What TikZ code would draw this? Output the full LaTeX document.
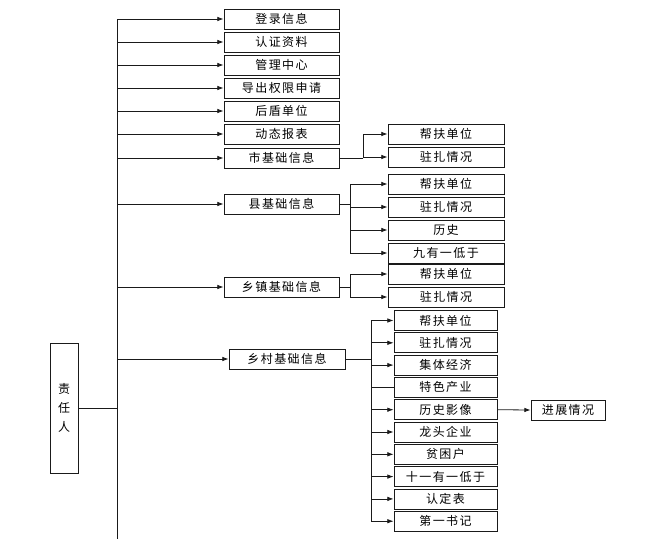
\documentclass[tikz,border=0pt]{standalone}
\usepackage{fontspec}
\usepackage{tikz}
\usetikzlibrary{arrows.meta,positioning,calc}
\newfontfamily\cjk[LetterSpace=12]{Noto Sans CJK SC}
\definecolor{ink}{HTML}{1A1A1A}
\tikzset{
  box/.style={draw=ink,line width=0.8pt,inner sep=0pt,minimum height=20pt,font=\cjk\fontsize{12}{14}\selectfont},
  topbox/.style={box,minimum width=115pt},
  subbox/.style={box,minimum width=116pt},
  cunbox/.style={box,minimum width=103pt},
  arr/.style={-{Latex[length=2.2mm,width=1.6mm]},line width=0.8pt,color=ink},
  wire/.style={line width=0.8pt,color=ink}
}
\begin{document}
\begin{tikzpicture}[x=1pt,y=-1pt]
  \useasboundingbox (0,0) rectangle (646,539);
  \node[box,minimum width=28pt,minimum height=130pt,align=center,font=\cjk\fontsize{12}{19}\selectfont] (zr) at (64,408) {责\\任\\人};
  \node[topbox] (dl) at (281.5,19) {登录信息};
  \node[topbox] (rz) at (281.5,42) {认证资料};
  \node[topbox] (gl) at (281.5,65) {管理中心};
  \node[topbox] (dc) at (281.5,88) {导出权限申请};
  \node[topbox] (hd) at (281.5,111) {后盾单位};
  \node[topbox] (dt) at (281.5,134) {动态报表};
  \node[topbox] (shi) at (281.5,158) {市基础信息};
  \node[topbox] (xian) at (281.5,204) {县基础信息};
  \node[topbox] (xz) at (281.5,287) {乡镇基础信息};
  \node[cunbox,minimum width=116pt] (cun) at (287,359) {乡村基础信息};
  % 市
  \node[subbox] (shi1) at (446,134) {帮扶单位};
  \node[subbox] (shi2) at (446,157) {驻扎情况};
  % 县
  \node[subbox] (xian1) at (446,184) {帮扶单位};
  \node[subbox] (xian2) at (446,207) {驻扎情况};
  \node[subbox] (xian3) at (446,230) {历史};
  \node[subbox] (xian4) at (446,253) {九有一低于};
  % 乡镇
  \node[subbox] (xz1) at (446,274) {帮扶单位};
  \node[subbox] (xz2) at (446,297) {驻扎情况};
  % 乡村
  \node[cunbox] (cun1) at (445.5,320.5) {帮扶单位};
  \node[cunbox] (cun2) at (445.5,342.8) {驻扎情况};
  \node[cunbox] (cun3) at (445.5,365.1) {集体经济};
  \node[cunbox] (cun4) at (445.5,387.4) {特色产业};
  \node[cunbox] (cun5) at (445.5,409.7) {历史影像};
  \node[cunbox] (cun6) at (445.5,432) {龙头企业};
  \node[cunbox] (cun7) at (445.5,454.3) {贫困户};
  \node[cunbox] (cun8) at (445.5,476.6) {十一有一低于};
  \node[cunbox] (cun9) at (445.5,498.9) {认定表};
  \node[cunbox] (cun10) at (445.5,521.2) {第一书记};
  \node[box,minimum width=74pt] (jz) at (568,410) {进展情况};

  \coordinate (ttop) at (117,19);
  \coordinate (tbot) at (117,539);
  \draw[wire] (ttop) -- (tbot);
  \draw[wire] (zr.east) -- (ttop |- zr.east);
  \foreach \n in {dl,rz,gl,dc,hd,dt,shi,xian,xz,cun}
    \draw[arr] (ttop |- \n.west) -- (\n.west);

  \draw[wire] (shi.east) -- ++(24,0) coordinate (bshi);
  \draw[arr] (bshi) |- (shi1.west);
  \draw[arr] (bshi) |- (shi2.west);
  \draw[wire] (xian.east) -- ++(11,0) coordinate (bxian);
  \foreach \n in {1,...,4}
    \draw[arr] (bxian) |- (xian\n.west);
  \draw[wire] (xz.east) -- ++(11,0) coordinate (bxz);
  \foreach \n in {1,2}
    \draw[arr] (bxz) |- (xz\n.west);
  \draw[wire] (cun.east) -- ++(26,0) coordinate (bcun);
  \foreach \n in {1,2,3,5,6,7,8,9,10}
    \draw[arr] (bcun) |- (cun\n.west);
  \draw[wire] (bcun) |- (cun4.west);
  \draw[arr] (cun5.east) -- (jz.west);
\end{tikzpicture}
\end{document}
